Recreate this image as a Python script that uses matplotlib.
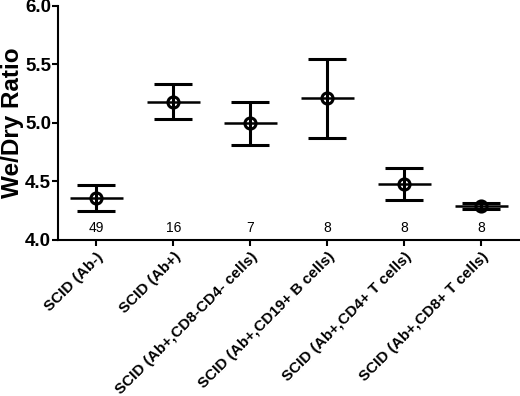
import matplotlib
matplotlib.use("Agg")
import matplotlib.pyplot as plt
import numpy as np

# 数据
groups = ["SCID (Ab-)", "SCID (Ab+)", "SCID (Ab+,CD8-CD4- cells)",
          "SCID (Ab+,CD19+ B cells)", "SCID (Ab+,CD4+ T cells)",
          "SCID (Ab+,CD8+ T cells)"]
means = [4.36, 5.18, 5.00, 5.21, 4.48, 4.29]
upper = [4.47, 5.33, 5.18, 5.55, 4.615, 4.315]
lower = [4.25, 5.03, 4.81, 4.87, 4.345, 4.265]
counts = [49, 16, 7, 8, 8, 8]

plt.rcParams['font.family'] = ['Liberation Sans', 'DejaVu Sans']

fig = plt.figure(figsize=(5.2, 3.96), dpi=100)
ax = fig.add_axes([0.1115, 0.394, 0.8885, 0.591])

x = np.arange(len(groups))
m = np.array(means)
yerr = [m - np.array(lower), np.array(upper) - m]

# 误差线
ax.errorbar(x, m, yerr=yerr, fmt='none', ecolor='black', elinewidth=2.2,
            capsize=14, capthick=2.2, zorder=3)
# 均值横线
ax.hlines(m, x - 0.34, x + 0.34, colors='black', linewidth=1.8, zorder=3)
# 空心圆点
ax.plot(x, m, linestyle='none', marker='o', markersize=8,
        markerfacecolor='none', markeredgecolor='black', markeredgewidth=2.2,
        zorder=4)

# 样本数标签
for xi, n in zip(x, counts):
    ax.text(xi, 4.1, str(n), ha='center', va='center', fontsize=10)

ax.set_xlim(-0.5, 5.5)
ax.set_ylim(4.0, 6.0)
ax.set_yticks([4.0, 4.5, 5.0, 5.5, 6.0])
ax.set_yticklabels(["4.0", "4.5", "5.0", "5.5", "6.0"], fontsize=13.5,
                   fontweight='bold')
ax.set_xticks(x)
ax.set_xticklabels(groups, rotation=45, ha='right', rotation_mode='anchor',
                   fontsize=11, fontweight='bold')
ax.set_ylabel("We/Dry Ratio", fontsize=17.5, fontweight='bold')
ax.yaxis.set_label_coords(-0.073, 0.5)

for side in ['top', 'right']:
    ax.spines[side].set_visible(False)
for side in ['left', 'bottom']:
    ax.spines[side].set_linewidth(1.5)
ax.tick_params(axis='both', direction='out', length=4, width=1.5)
ax.tick_params(axis='y', pad=1)
ax.tick_params(axis='x', pad=3)

fig.savefig("out.png", dpi=100)
